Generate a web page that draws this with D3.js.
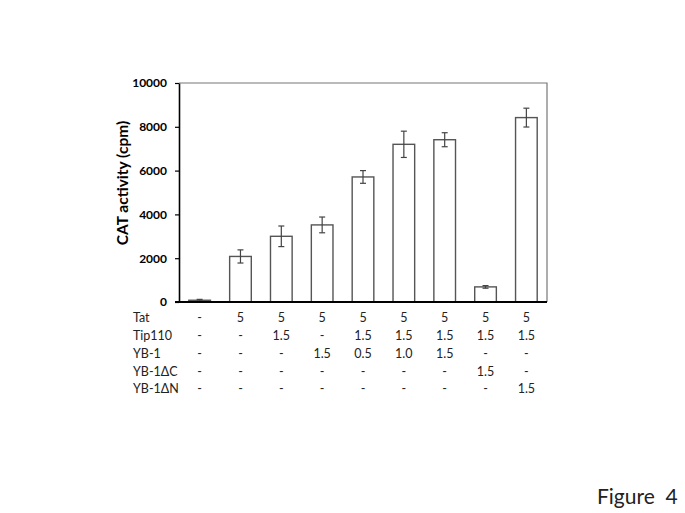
<!DOCTYPE html>
<html>
<head>
<meta charset="utf-8">
<script src="https://cdn.jsdelivr.net/npm/d3@7"></script>
<style>
  body { margin: 0; background: #fff; }
  svg text { font-family: Lato, "Open Sans", sans-serif; white-space: pre; }
</style>
</head>
<body>
<svg id="chart" width="685" height="513"></svg>
<script>
// values
const lanes = ['1','2','3','4','5','6','7','8','9']
const activity = [80, 2080, 3000, 3520, 5710, 7200, 7410, 690, 8420]
const errors = [40, 300, 470, 360, 290, 600, 320, 60, 430]
const yTicks = [0, 2000, 4000, 6000, 8000, 10000]

const rowLabels = ['Tat', 'Tip110', 'YB-1', 'YB-1ΔC', 'YB-1ΔN']
const tat    = ['-', '5', '5', '5', '5', '5', '5', '5', '5']
const tip110 = ['-', '-', '1.5', '-', '1.5', '1.5', '1.5', '1.5', '1.5']
const yb1    = ['-', '-', '-', '1.5', '0.5', '1.0', '1.5', '-', '-']
const yb1dc  = ['-', '-', '-', '-', '-', '-', '-', '1.5', '-']
const yb1dn  = ['-', '-', '-', '-', '-', '-', '-', '-', '1.5']
const rows = [tat, tip110, yb1, yb1dc, yb1dn]

const plotL = 179, plotR = 547, plotT = 83, plotB = 302

const svg = d3.select('#chart')

let x = d3.scaleBand()
    .domain(lanes)
    .range([plotL, plotR])
    .paddingInner(0.47)
    .paddingOuter(0.24)

let y = d3.scaleLinear()
    .domain([0, 10000])
    .range([plotB, plotT])

// plot frame (top and right)
svg.append('path')
    .attr('d', `M${plotL},${plotT}H${plotR}V${plotB}`)
    .attr('fill', 'none')
    .attr('stroke', '#777')
    .attr('stroke-width', 1.2)

// bars
svg.selectAll('rect.bar')
    .data(activity)
    .enter().append('rect')
      .attr('class', 'bar')
      .attr('x', (d, i) => x(lanes[i]))
      .attr('y', d => y(d))
      .attr('width', x.bandwidth())
      .attr('height', d => plotB - y(d))
      .attr('fill', (d, i) => i === 0 ? '#666' : '#fff')
      .attr('stroke', '#555')
      .attr('stroke-width', 1.4)

// error bars
const eb = svg.selectAll('g.err')
    .data(activity)
    .enter().append('g')
      .attr('class', 'err')
      .attr('stroke', '#444')
      .attr('stroke-width', 1.2)

eb.append('line')
    .attr('x1', (d, i) => x(lanes[i]) + x.bandwidth() / 2)
    .attr('x2', (d, i) => x(lanes[i]) + x.bandwidth() / 2)
    .attr('y1', (d, i) => y(d + errors[i]))
    .attr('y2', (d, i) => y(d - errors[i]))

eb.append('line')
    .attr('x1', (d, i) => x(lanes[i]) + x.bandwidth() / 2 - 3)
    .attr('x2', (d, i) => x(lanes[i]) + x.bandwidth() / 2 + 3)
    .attr('y1', (d, i) => y(d + errors[i]))
    .attr('y2', (d, i) => y(d + errors[i]))

eb.append('line')
    .attr('x1', (d, i) => x(lanes[i]) + x.bandwidth() / 2 - 3)
    .attr('x2', (d, i) => x(lanes[i]) + x.bandwidth() / 2 + 3)
    .attr('y1', (d, i) => y(d - errors[i]))
    .attr('y2', (d, i) => y(d - errors[i]))

// y axis
const yAxis = svg.append('g')
    .attr('transform', `translate(${plotL},0)`)
    .call(d3.axisLeft(y).tickValues(yTicks).tickFormat(d3.format('d')).tickSize(4).tickSizeOuter(0))

yAxis.select('.domain').attr('stroke', '#000').attr('stroke-width', 1.6)
yAxis.selectAll('.tick line').attr('stroke', '#000').attr('stroke-width', 1.2)
yAxis.selectAll('.tick text')
    .attr('x', -12)
    .attr('fill', '#000')
    .style('font-family', 'Lato, sans-serif')
    .style('font-size', '12px')
    .style('font-weight', 'bold')

// x baseline
svg.append('line')
    .attr('x1', plotL - 4)
    .attr('x2', plotR)
    .attr('y1', plotB)
    .attr('y2', plotB)
    .attr('stroke', '#000')
    .attr('stroke-width', 1.8)

// y title
svg.append('text')
    .attr('transform', 'translate(128,183) rotate(-90)')
    .attr('text-anchor', 'middle')
    .style('font-size', '15.5px')
    .style('font-weight', 'bold')
    .attr('fill', '#000')
    .text('CAT activity (cpm)')

// treatment table
const rowY = [322, 340, 358, 376, 393]

svg.selectAll('text.rowlabel')
    .data(rowLabels)
    .enter().append('text')
      .attr('class', 'rowlabel')
      .attr('x', 133)
      .attr('y', (d, i) => rowY[i])
      .style('font-size', '12.5px')
      .attr('fill', '#222')
      .text(d => d)

rows.forEach(function(row, r) {
  svg.selectAll('text.cell' + r)
      .data(row)
      .enter().append('text')
        .attr('class', 'cell' + r)
        .attr('x', (d, i) => x(lanes[i]) + x.bandwidth() / 2)
        .attr('y', rowY[r])
        .attr('text-anchor', 'middle')
        .style('font-size', '12.5px')
        .attr('fill', '#222')
        .text(d => d)
})

svg.append('text')
    .attr('x', 597)
    .attr('y', 504)
    .style('font-size', '21px')
    .attr('fill', '#222')
    .text('Figure  4')
</script>
</body>
</html>
